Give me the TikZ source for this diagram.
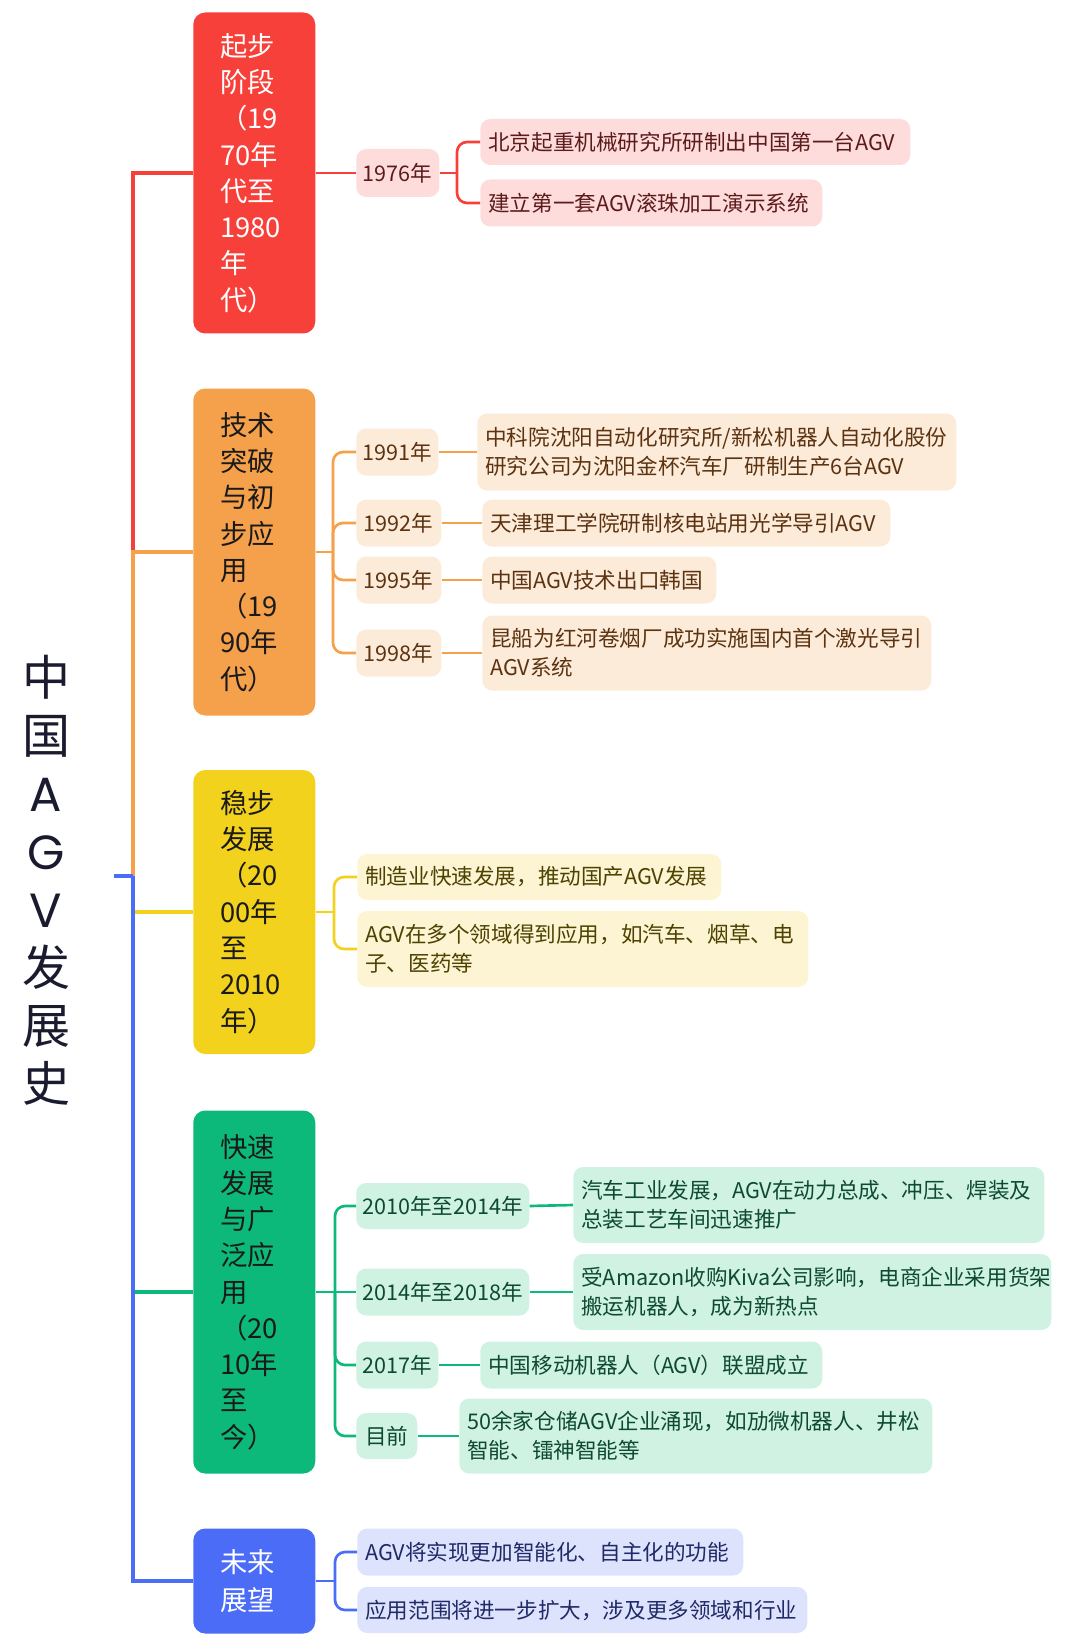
\documentclass[tikz,border=0pt]{standalone}
\usepackage{fontspec}
\setmainfont{Noto Sans CJK SC}
\newfontfamily\geo{Poppins}
\definecolor{cR}{HTML}{F7403A}
\definecolor{cO}{HTML}{F5A04B}
\definecolor{cY}{HTML}{F2D21C}
\definecolor{cG}{HTML}{0DB97A}
\definecolor{cB}{HTML}{4A6CF7}
\definecolor{lR}{HTML}{FFDCDC}
\definecolor{lO}{HTML}{FDEBDA}
\definecolor{lY}{HTML}{FCF4D3}
\definecolor{lG}{HTML}{CFF2E3}
\definecolor{lB}{HTML}{DEE3FD}
\definecolor{tR}{HTML}{5C1B1B}
\definecolor{tO}{HTML}{5C3310}
\definecolor{tY}{HTML}{4D4200}
\definecolor{tG}{HTML}{0E4A33}
\definecolor{tB}{HTML}{1F2A66}
\definecolor{tK}{HTML}{1A1A1A}
\definecolor{tRoot}{HTML}{1B1B2F}
\begin{document}
\begin{tikzpicture}[x=0.75pt,y=-0.75pt,
  mainbox/.style={rounded corners=9pt, inner xsep=20.25pt, inner ysep=0pt, text width=51pt, align=left, anchor=west, font=\fontsize{20.5}{27.2}\selectfont},
  yrbox/.style={rounded corners=7.5pt, inner sep=0pt, align=center, anchor=west, font=\fontsize{16.2}{21.75}\selectfont},
  leafbox/.style={rounded corners=7.5pt, inner xsep=6pt, inner ysep=0pt, align=left, anchor=west, font=\fontsize{16.2}{21.75}\selectfont},
  trunk/.style={line width=2.3pt},
  twig/.style={line width=2pt, rounded corners=7.5pt},
]
\useasboundingbox (0,0) rectangle (1080,1651);

% root
\node[align=center, text=tRoot, font=\fontsize{36}{43.5}\selectfont, inner sep=0pt] (root) at (46,880)
  {中\\国\\{\geo A}\\{\geo G}\\{\geo V}\\发\\展\\史};
\coordinate (stub) at (114,876);
\coordinate (hub) at (133,876);

% level 1
\node[mainbox, fill=cR, text=white, minimum height=240.75pt] (L1r) at (193,173)
  {起步\\阶段\\（19\\70年\\代至\\1980\\年\\代）};
\node[mainbox, fill=cO, text=tK, minimum height=245.25pt] (L1o) at (193,552)
  {技术\\突破\\与初\\步应\\用\\（19\\90年\\代）};
\node[mainbox, fill=cY, text=tK, minimum height=213pt] (L1y) at (193,912)
  {稳步\\发展\\（20\\00年\\至\\2010\\年）};
\node[mainbox, fill=cG, text=tK, minimum height=272.25pt] (L1g) at (193,1292)
  {快速\\发展\\与广\\泛应\\用\\（20\\10年\\至\\今）};
\node[mainbox, fill=cB, text=white, minimum height=78.75pt, font=\fontsize{20.5}{28.5}\selectfont] (L1b) at (193,1581)
  {未来\\展望};

% trunk connectors
\draw[trunk, cR] (hub) |- (L1r.west);
\draw[trunk, cO] (hub) |- (L1o.west);
\draw[trunk, cY] (hub) |- (L1y.west);
\draw[trunk, cG] (hub) |- (L1g.west);
\draw[trunk, cB] (hub) |- (L1b.west);
\draw[trunk, cB] (stub) -- (hub);

% ---- red branch
\node[yrbox, fill=lR, text=tR, minimum width=62.25pt, minimum height=36pt] (y1976) at (356,173) {1976年};
\node[leafbox, fill=lR, text=tR, text width=310.5pt, minimum height=34.5pt] (r1) at (480,142)
  {北京起重机械研究所研制出中国第一台AGV};
\node[leafbox, fill=lR, text=tR, text width=244.5pt, minimum height=35.25pt] (r2) at (480,203)
  {建立第一套AGV滚珠加工演示系统};
\coordinate (bR) at (457,173);
\draw[twig, cR] (L1r.east) -- (y1976.west);
\draw[twig, cR] (y1976.east) -- (bR);
\draw[twig, cR] (bR) |- (r1.west);
\draw[twig, cR] (bR) |- (r2.west);

% ---- orange branch
\node[yrbox, fill=lO, text=tO, minimum width=61.5pt, minimum height=35.25pt] (y1991) at (356,452) {1991年};
\node[yrbox, fill=lO, text=tO, minimum width=63.75pt, minimum height=35.25pt] (y1992) at (356,523) {1992年};
\node[yrbox, fill=lO, text=tO, minimum width=63.75pt, minimum height=35.25pt] (y1995) at (356,580) {1995年};
\node[yrbox, fill=lO, text=tO, minimum width=63.75pt, minimum height=35.25pt] (y1998) at (356,653) {1998年};
\node[leafbox, fill=lO, text=tO, text width=347.25pt, minimum height=57.75pt] (o1) at (477,452)
  {中科院沈阳自动化研究所/新松机器人自动化股份\\研究公司为沈阳金杯汽车厂研制生产6台AGV};
\node[leafbox, fill=lO, text=tO, text width=294pt, minimum height=35.25pt] (o2) at (482,523)
  {天津理工学院研制核电站用光学导引AGV};
\node[leafbox, fill=lO, text=tO, text width=163.5pt, minimum height=35.25pt] (o3) at (482,580)
  {中国AGV技术出口韩国};
\node[leafbox, fill=lO, text=tO, text width=324.75pt, minimum height=56.25pt] (o4) at (482,653)
  {昆船为红河卷烟厂成功实施国内首个激光导引\\AGV系统};
\coordinate (bO) at (333,552);
\draw[twig, cO] (L1o.east) -- (bO);
\draw[twig, cO] (bO) |- (y1991.west);
\draw[twig, cO] (bO) |- (y1992.west);
\draw[twig, cO] (bO) |- (y1995.west);
\draw[twig, cO] (bO) |- (y1998.west);
\draw[twig, cO] (y1991.east) -- (o1.west);
\draw[twig, cO] (y1992.east) -- (o2.west);
\draw[twig, cO] (y1995.east) -- (o3.west);
\draw[twig, cO] (y1998.east) -- (o4.west);

% ---- yellow branch
\node[leafbox, fill=lY, text=tY, text width=261pt, minimum height=34.5pt] (yl1) at (357,877)
  {制造业快速发展，推动国产AGV发展};
\node[leafbox, fill=lY, text=tY, text width=326.25pt, minimum height=57pt] (yl2) at (357,949)
  {AGV在多个领域得到应用，如汽车、烟草、电\\子、医药等};
\coordinate (bY) at (334,912);
\draw[twig, cY] (L1y.east) -- (bY);
\draw[twig, cY] (bY) |- (yl1.west);
\draw[twig, cY] (bY) |- (yl2.west);

% ---- green branch
\node[yrbox, fill=lG, text=tG, minimum width=129.75pt, minimum height=34.5pt] (g2010) at (356,1206) {2010年至2014年};
\node[yrbox, fill=lG, text=tG, minimum width=129.75pt, minimum height=35.25pt] (g2014) at (356,1292) {2014年至2018年};
\node[yrbox, fill=lG, text=tG, minimum width=61.5pt, minimum height=35.25pt] (g2017) at (356,1365) {2017年};
\node[yrbox, fill=lG, text=tG, minimum width=45.75pt, minimum height=34.5pt] (gnow) at (356,1436) {目前};
\node[leafbox, fill=lG, text=tG, text width=341.25pt, minimum height=57pt] (gd1) at (573,1205)
  {汽车工业发展，AGV在动力总成、冲压、焊装及\\总装工艺车间迅速推广};
\node[leafbox, fill=lG, text=tG, text width=346.5pt, minimum height=57pt] (gd2) at (573,1292)
  {受Amazon收购Kiva公司影响，电商企业采用货架\\搬运机器人，成为新热点};
\node[leafbox, fill=lG, text=tG, text width=244.5pt, minimum height=35.25pt] (gd3) at (480,1365)
  {中国移动机器人（AGV）联盟成立};
\node[leafbox, fill=lG, text=tG, text width=342.75pt, minimum height=56.25pt] (gd4) at (459,1436)
  {50余家仓储AGV企业涌现，如劢微机器人、井松\\智能、镭神智能等};
\coordinate (bG) at (335,1292);
\draw[twig, cG] (L1g.east) -- (bG);
\draw[twig, cG] (bG) |- (g2010.west);
\draw[twig, cG] (bG) -- (g2014.west);
\draw[twig, cG] (bG) |- (g2017.west);
\draw[twig, cG] (bG) |- (gnow.west);
\draw[twig, cG] (g2010.east) -- (gd1.west);
\draw[twig, cG] (g2014.east) -- (gd2.west);
\draw[twig, cG] (g2017.east) -- (gd3.west);
\draw[twig, cG] (gnow.east) -- (gd4.west);

% ---- blue branch
\node[leafbox, fill=lB, text=tB, text width=277.5pt, minimum height=35.25pt] (bl1) at (357,1552)
  {AGV将实现更加智能化、自主化的功能};
\node[leafbox, fill=lB, text=tB, text width=325.5pt, minimum height=34.5pt] (bl2) at (357,1610)
  {应用范围将进一步扩大，涉及更多领域和行业};
\coordinate (bB) at (335,1581);
\draw[twig, cB] (L1b.east) -- (bB);
\draw[twig, cB] (bB) |- (bl1.west);
\draw[twig, cB] (bB) |- (bl2.west);
\end{tikzpicture}
\end{document}
